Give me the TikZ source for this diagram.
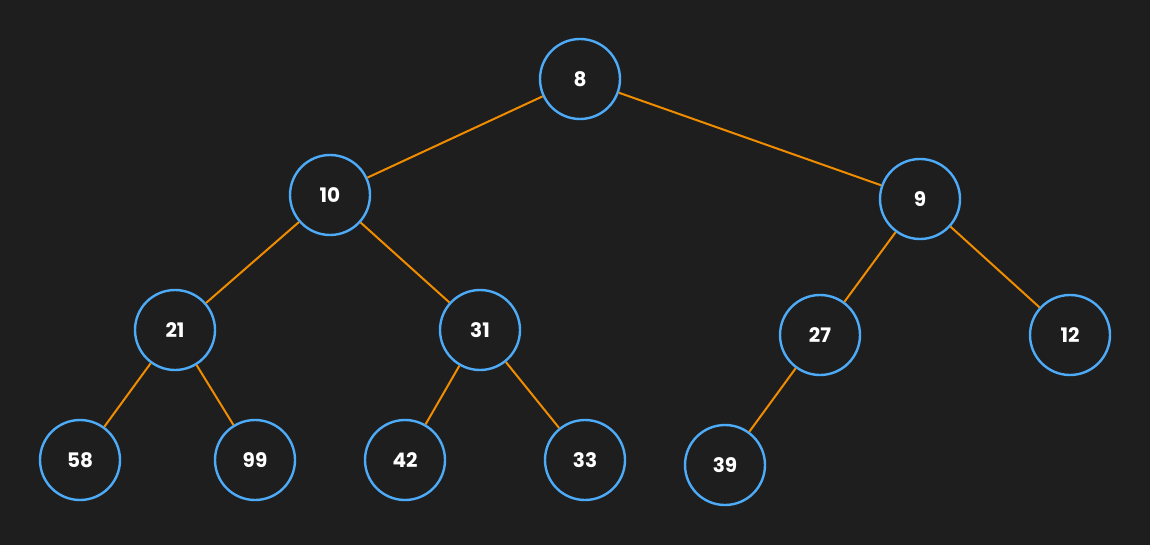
\documentclass[tikz,border=0pt]{standalone}
\usepackage{fontspec}
\setmainfont{Poppins}
\usepackage{tikz}
\usetikzlibrary{calc}

\definecolor{bgdark}{HTML}{1E1E1E}
\definecolor{heapblue}{HTML}{4DABF7}
\definecolor{heaporange}{HTML}{F08C00}

\tikzset{
  heapnode/.style={circle, draw=heapblue, fill=bgdark, line width=1.2pt,
    minimum size=40pt, inner sep=0pt, text=white,
    font=\fontsize{10}{12}\selectfont\bfseries},
  heapedge/.style={draw=heaporange, line width=1pt}
}

\begin{document}
\begin{tikzpicture}[x=0.5pt,y=-0.5pt]
  %% background and size
  \fill[bgdark] (0,0) rectangle (1150,545);
  \useasboundingbox (0,0) rectangle (1150,545);

  %% the heap nodes
  \foreach \x/\y/\v in {580/79/8, 330/195/10, 920/199/9,
    175/330/21, 480/330/31, 820/335/27, 1070/335/12,
    80/460/58, 255/460/99, 405/460/42, 585/460/33, 725/465/39}
  {
    \node[heapnode] (N\v) at (\x,\y) {\v};
  }

  %% parent -- child edges
  \foreach \p/\c in {8/10, 8/9, 10/21, 10/31, 9/27, 9/12,
    21/58, 21/99, 31/42, 31/33, 27/39}
  {
    \draw[heapedge] (N\p) -- (N\c);
  }

\end{tikzpicture}
\end{document}
